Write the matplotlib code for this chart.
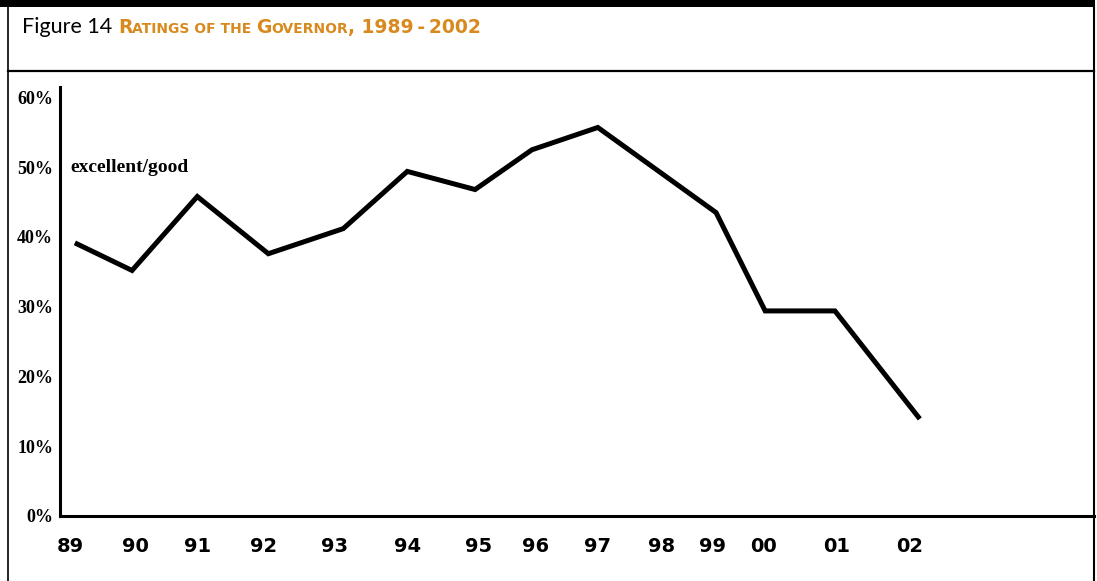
import numpy as np
import matplotlib
matplotlib.use('Agg')
import matplotlib.pyplot as plt
from matplotlib.lines import Line2D

# survey positions (two-digit year scale, 100 = 2000) and share rating the governor excellent/good
survey_x = [89.11, 89.96, 90.97, 92.07, 93.23, 94.22, 95.27, 96.15, 97.17, 99.00, 99.76, 100.84, 102.13]
excellent_good = [39.0, 35.2, 45.8, 37.6, 41.2, 49.4, 46.8, 52.5, 55.7, 43.5, 29.4, 29.4, 14.2]

tick_x = [89.0, 90.01, 90.98, 91.99, 93.10, 94.22, 95.32, 96.20, 97.17, 98.16, 98.95, 99.73, 100.87, 102.0]
tick_labels = ['89', '90', '91', '92', '93', '94', '95', '96', '97', '98', '99', '00', '01', '02']
y_ticks = [0, 10, 20, 30, 40, 50, 60]

W, H = 1097, 581
orange = '#D88A1F'

fig = plt.figure(figsize=(W / 100, H / 100), dpi=100)

def px(x, y):
    return x / W, 1 - y / H

# frame: thick top band, thin sides, title separator
fig.add_artist(plt.Rectangle(px(0, 7), 1095 / W, 7 / H, transform=fig.transFigure,
                             color='black', lw=0))
for (x0, y0), (x1, y1), lw in [((8, 7), (8, 581), 1.2), ((1094, 7), (1094, 581), 1.5),
                               ((8, 71), (1094, 71), 1.6)]:
    a, b = px(x0, y0)
    c, d = px(x1, y1)
    fig.add_artist(Line2D([a, c], [b, d], transform=fig.transFigure, color='black', lw=lw))

# title pieces (small caps made by hand)
base_y = 1 - 33 / H
fig.canvas.draw()
renderer = fig.canvas.get_renderer()
pieces = [('Figure 14 ', 15.5, 'normal', 'black', 'Lato'),
          ('R', 13.5, 'bold', orange, 'DejaVu Sans'),
          ('ATINGS OF THE ', 10, 'bold', orange, 'DejaVu Sans'),
          ('G', 13.5, 'bold', orange, 'DejaVu Sans'),
          ('OVERNOR', 10, 'bold', orange, 'DejaVu Sans'),
          (', 1989\u2009-\u20092002', 13.5, 'bold', orange, 'DejaVu Sans')]
cur_x = 22 / W
for s, size, weight, col, fam in pieces:
    t = fig.text(cur_x, base_y, s, fontsize=size, fontweight=weight, color=col,
                 family=fam, va='baseline', ha='left')
    bb = t.get_window_extent(renderer)
    cur_x = bb.x1 / W

ax = fig.add_axes([60 / W, (H - 516) / H, (1094 - 60) / W, (516 - 87) / H])
ax.plot(survey_x, excellent_good, color='black', lw=3.6, solid_joinstyle='miter')

ax.set_xlim(88.845, 104.85)
ax.set_ylim(0, 61.5)
for s in ['top', 'right']:
    ax.spines[s].set_visible(False)
for s in ['left', 'bottom']:
    ax.spines[s].set_linewidth(2.2)

ax.set_xticks(tick_x)
ax.set_xticklabels(tick_labels, fontsize=14, fontweight='bold', family='DejaVu Sans')
ax.set_yticks(y_ticks)
ax.set_yticklabels([f'{v}%' for v in y_ticks], fontsize=13, fontweight='bold',
                   family='Liberation Serif')
ax.tick_params(axis='x', length=0, pad=15)
ax.tick_params(axis='y', length=0, pad=5)

ax.text(89.0, 49.35, 'excellent/good', fontsize=14, fontweight='bold',
        family='Liberation Serif', ha='left', va='baseline')

fig.savefig('out.png', dpi=100)
